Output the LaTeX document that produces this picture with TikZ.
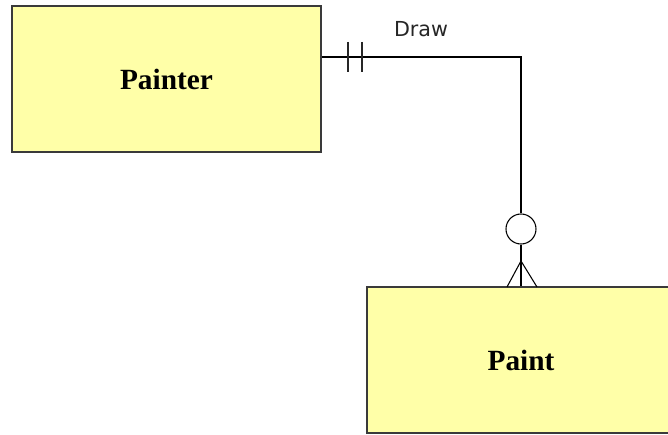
\documentclass[tikz,border=0pt]{standalone}
\usepackage{fontspec}
\setmainfont{Liberation Serif}
\newfontfamily\lblfont{DejaVu Sans}
\usetikzlibrary{calc}
\definecolor{entfill}{HTML}{FFFFA8}
\definecolor{entedge}{HTML}{3A3A3A}
\tikzset{
  entity/.style={draw=entedge, line width=1.4pt, fill=entfill, inner sep=0pt,
    font=\fontsize{22pt}{24pt}\selectfont\bfseries},
  rel/.style={draw=black, line width=0.8pt},
  bar/.style={draw=black!85, line width=1.2pt},
  opt/.style={circle, draw=black, line width=0.8pt, fill=white, minimum size=22.5pt, inner sep=0pt},
  rellabel/.style={font=\lblfont\fontsize{15.5pt}{17pt}\selectfont, text=black!85, inner sep=0pt}
}
\begin{document}
\begin{tikzpicture}[x=0.75pt,y=-0.75pt]
\clip (0,0) rectangle (668,435);
\fill[white] (0,0) rectangle (668,435);
\node[entity, minimum width=231.75pt, minimum height=109.5pt] (painter) at (166.5,79) {Painter};
\node[entity, minimum width=231pt, minimum height=109.5pt] (paint) at (521,360) {Paint};
\node[opt] (ring) at (521,229) {};
\coordinate (start) at ($(painter.east)+(0,-22)$);
\coordinate (corner) at (521,57);
\coordinate (foot) at (521,261);
\coordinate (footl) at (507,287);
\coordinate (footr) at (537,287);
\coordinate (b1t) at (348,42);
\coordinate (b1b) at (348,72);
\coordinate (b2t) at (362,42);
\coordinate (b2b) at (362,72);
\draw[rel] (start) -- (corner) -- (ring.north);
\draw[rel] (ring.south) -- (paint.north);
\draw[rel] (foot) -- (footl);
\draw[rel] (foot) -- (footr);
\draw[bar] (b1t) -- (b1b);
\draw[bar] (b2t) -- (b2b);
\node[rellabel, anchor=base] (lbl) at (421,37) {Draw};
\end{tikzpicture}
\end{document}
